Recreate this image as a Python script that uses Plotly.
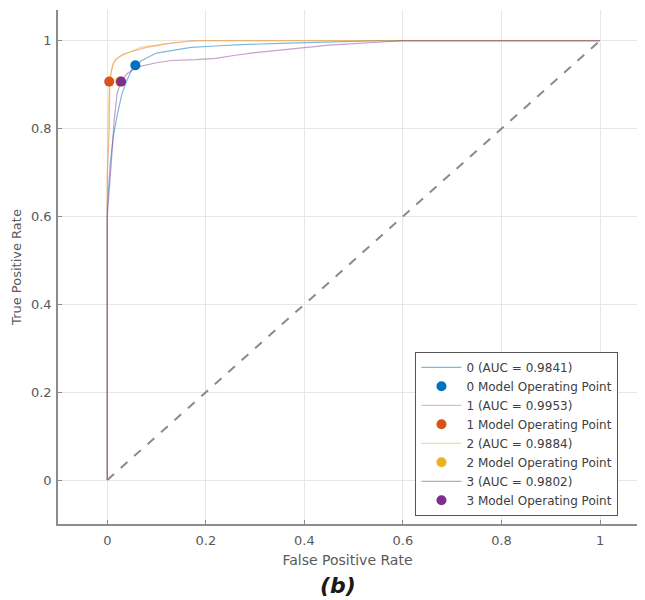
import plotly.graph_objects as go

# ROC curves (false positive rate, true positive rate)
fpr0 = [0, 0, 0.006, 0.012, 0.02, 0.03, 0.04, 0.05, 0.057, 0.07, 0.1, 0.14, 0.17, 0.22, 0.27, 0.35, 0.45, 0.55, 1.0]
tpr0 = [0, 0.62, 0.72, 0.78, 0.83, 0.88, 0.91, 0.935, 0.944, 0.955, 0.972, 0.98, 0.985, 0.988, 0.991, 0.994, 0.997, 1.0, 1.0]

fpr1 = [0, 0, 0.004, 0.005, 0.008, 0.012, 0.02, 0.03, 0.05, 0.08, 0.12, 0.17, 0.3, 1.0]
tpr1 = [0, 0.69, 0.80, 0.907, 0.93, 0.948, 0.96, 0.968, 0.976, 0.985, 0.993, 1.0, 1.0, 1.0]

fpr2 = [0, 0, 0.002, 0.005, 0.01, 0.016, 0.025, 0.033, 0.05, 0.067, 0.1, 0.14, 0.19, 1.0]
tpr2 = [0, 0.70, 0.84, 0.91, 0.94, 0.957, 0.963, 0.968, 0.976, 0.985, 0.99, 0.996, 1.0, 1.0]

fpr3 = [0, 0, 0.008, 0.014, 0.02, 0.028, 0.04, 0.06, 0.1, 0.13, 0.18, 0.22, 0.26, 0.3, 0.36, 0.45, 0.6, 1.0]
tpr3 = [0, 0.60, 0.72, 0.82, 0.88, 0.907, 0.925, 0.94, 0.95, 0.955, 0.957, 0.96, 0.967, 0.973, 0.98, 0.99, 1.0, 1.0]

# operating points
op_x = [0.057, 0.004, 0.026, 0.028]
op_y = [0.944, 0.907, 0.907, 0.907]

labels = ["0", "1", "2", "3"]
aucs = ["0.9841", "0.9953", "0.9884", "0.9802"]
colors = ["#0072BD", "#D95319", "#EDB120", "#7E2F8E"]
line_colors = ["rgba(0,114,189,0.5)", "rgba(217,83,25,0.4)",
               "rgba(237,177,32,0.45)", "rgba(126,47,142,0.45)"]

fprs = [fpr0, fpr1, fpr2, fpr3]
tprs = [tpr0, tpr1, tpr2, tpr3]

fig = go.Figure()

fig.add_trace(go.Scatter(x=[0, 1], y=[0, 1], mode="lines",
                         line=dict(color="#8a8a8a", width=2, dash="dash"),
                         showlegend=False, hoverinfo="skip"))

# curves first, points on top; legendrank keeps curve/point/curve/point order
for i in range(4):
    fig.add_trace(go.Scatter(x=fprs[i], y=tprs[i], mode="lines",
                             line=dict(color=line_colors[i], width=1.2),
                             name="%s (AUC = %s)" % (labels[i], aucs[i]),
                             legendrank=10 + 2 * i))
for i in range(4):
    fig.add_trace(go.Scatter(x=[op_x[i]], y=[op_y[i]], mode="markers",
                             marker=dict(color=colors[i], size=10),
                             name="%s Model Operating Point" % labels[i],
                             legendrank=11 + 2 * i))

axis_style = dict(showgrid=True, gridcolor="#e6e6e6", gridwidth=1, automargin=False,
                  zeroline=False, showline=True, linecolor="#8c8c8c", linewidth=1.5,
                  ticks="inside", ticklen=4, tickcolor="#8c8c8c",
                  tickfont=dict(size=13, color="#5a5a5a"),
                  tickvals=[0, 0.2, 0.4, 0.6, 0.8, 1],
                  ticktext=["0", "0.2", "0.4", "0.6", "0.8", "1"])

fig.update_xaxes(range=[-0.1, 1.075], ticklabelstandoff=4,
                 title=dict(text="False Positive Rate",
                            font=dict(size=14, color="#5a5a5a"), standoff=8), **axis_style)
fig.update_yaxes(range=[-0.1, 1.07], ticklabelstandoff=2,
                 title=dict(text="True Positive Rate",
                            font=dict(size=13, color="#5a5a5a"), standoff=6), **axis_style)

fig.add_annotation(text="<b><i>(b)</i></b>", x=0.484, y=-0.119, xref="paper", yref="paper",
                   showarrow=False, font=dict(size=22, color="#1a1a1a"), yanchor="middle")

# the page body adds about 8px of offset, so the margins are shifted to match
fig.update_layout(width=645, height=600,
                  margin=dict(l=50, r=16, t=2, b=84),
                  paper_bgcolor="white", plot_bgcolor="white",
                  font=dict(family="DejaVu Sans, sans-serif", color="#5a5a5a"),
                  legend=dict(x=0.968, y=0.016, xanchor="right", yanchor="bottom",
                              bgcolor="white", bordercolor="#555555", borderwidth=1,
                              font=dict(size=12, color="#404040"),
                              tracegroupgap=0, itemwidth=40))

fig.write_html("out.html")
